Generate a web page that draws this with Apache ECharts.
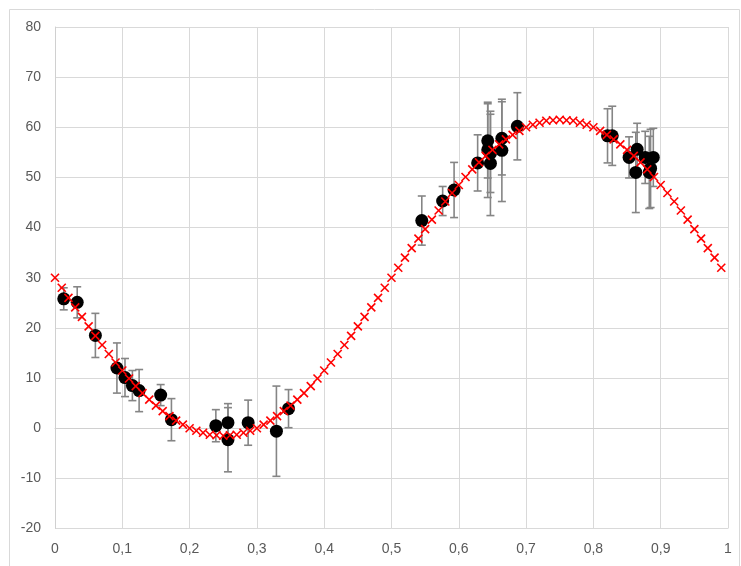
<!DOCTYPE html>
<html><head><meta charset="utf-8">
<script src="https://cdn.jsdelivr.net/npm/echarts@6/dist/echarts.min.js"></script>
<style>html,body{margin:0;padding:0;background:#fff}#c{width:741px;height:566px}</style>
</head><body><div id="c"></div>
<script>
// Model curve (red crosses), x = 0.00 .. 0.99 step 0.01
const modelX = [];
for (let i = 0; i < 100; i++) modelX.push(+(i / 100).toFixed(2));
const modelY = [30.0,28.0,26.0,24.1,22.2,20.3,18.4,16.6,14.8,13.1,11.5,9.9,8.4,7.0,5.7,4.5,3.4,2.4,1.5,0.7,0.0,-0.5,-0.9,-1.3,-1.4,-1.5,
-1.4,-1.3,-0.9,-0.5,0.0,0.7,1.5,2.4,3.4,4.5,5.7,7.0,8.4,9.9,11.5,13.1,14.8,16.6,18.4,20.3,22.2,24.1,26.0,28.0,30.0,
32.0,34.0,35.9,37.8,39.7,41.6,43.4,45.2,46.9,48.5,50.1,51.6,53.0,54.3,55.5,56.6,57.6,58.5,59.3,60.0,60.5,60.9,61.3,61.4,61.5,
61.4,61.3,60.9,60.5,60.0,59.3,58.5,57.6,56.6,55.5,54.3,53.0,51.6,50.1,48.5,46.9,45.2,43.4,41.6,39.7,37.8,35.9,34.0,32.0];

// Measured points (black circles) with symmetric error
const obsX = [0.013,0.033,0.060,0.092,0.104,0.115,0.125,0.157,0.173,0.239,0.257,0.257,0.287,0.329,0.347,
0.545,0.576,0.593,0.628,0.643,0.643,0.647,0.647,0.664,0.664,0.687,0.821,0.828,
0.853,0.865,0.863,0.877,0.885,0.883,0.889];
const obsY = [25.8,25.1,18.5,12.0,10.1,8.5,7.5,6.6,1.7,0.5,1.1,-2.3,1.1,-0.6,3.9,
41.4,45.3,47.5,52.9,57.3,55.5,54.8,52.8,57.8,55.4,60.2,58.3,58.3,
54.0,55.6,51.0,54.0,51.8,51.0,54.0];
const obsErr = [2.2,3.1,4.4,5.0,3.8,3.0,4.2,2.1,4.2,3.2,3.8,6.4,4.5,9.0,3.8,
4.9,2.9,5.5,5.6,7.4,9.5,7.8,10.4,7.3,10.2,6.7,5.4,5.9,
4.1,5.2,8.0,5.2,7.8,7.2,5.8];

const yTicks = [-20,-10,0,10,20,30,40,50,60,70,80];
const xTicks = [0,0.1,0.2,0.3,0.4,0.5,0.6,0.7,0.8,0.9,1];

const modelData = modelX.map((x, i) => [x, modelY[i]]);
const obsData = obsX.map((x, i) => [x, obsY[i]]);
const errData = obsX.map((x, i) => [x, obsY[i], obsErr[i]]);

const chart = echarts.init(document.getElementById('c'), null, {renderer: 'canvas'});
const labelFont = {color: '#595959', fontSize: 14, fontFamily: 'Liberation Sans, Arial, sans-serif'};
chart.setOption({
  animation: false,
  backgroundColor: '#fff',
  graphic: [{type: 'rect', shape: {x: 9.5, y: 9.5, width: 730, height: 570},
    style: {fill: 'none', stroke: '#d9d9d9', lineWidth: 1}, z: -10, silent: true}],
  grid: {left: 55, right: 13, top: 27, bottom: 37.5, containLabel: false},
  xAxis: {type: 'value', min: 0, max: 1, interval: 0.1,
    axisLine: {show: true, lineStyle: {color: '#d0d0d0', width: 1}},
    axisTick: {show: false},
    splitLine: {show: true, lineStyle: {color: '#d9d9d9', width: 1}},
    axisLabel: Object.assign({margin: 14, formatter: v => String(+v.toFixed(1)).replace('.', ',')}, labelFont)},
  yAxis: {type: 'value', min: -20, max: 80, interval: 10,
    axisLine: {show: true, lineStyle: {color: '#d0d0d0', width: 1}},
    axisTick: {show: false},
    splitLine: {show: true, lineStyle: {color: '#d9d9d9', width: 1}},
    axisLabel: Object.assign({margin: 14, formatter: v => String(v)}, labelFont)},
  series: [
    {type: 'custom', name: 'err', data: errData, z: 2,
      renderItem: function (params, api) {
        const x = api.value(0), y = api.value(1), e = api.value(2);
        const top = api.coord([x, y + e]);
        const bot = api.coord([x, y - e]);
        const hw = 4;
        const st = {stroke: '#858585', lineWidth: 1.6};
        return {type: 'group', children: [
          {type: 'line', shape: {x1: top[0], y1: top[1], x2: bot[0], y2: bot[1]}, style: st},
          {type: 'line', shape: {x1: top[0] - hw, y1: top[1], x2: top[0] + hw, y2: top[1]}, style: st},
          {type: 'line', shape: {x1: bot[0] - hw, y1: bot[1], x2: bot[0] + hw, y2: bot[1]}, style: st}
        ]};
      }},
    {type: 'scatter', name: 'obs', data: obsData, symbol: 'circle', symbolSize: 13, z: 3,
      itemStyle: {color: '#000', opacity: 1}},
    {type: 'custom', name: 'model', data: modelData, z: 4,
      renderItem: function (params, api) {
        const p = api.coord([api.value(0), api.value(1)]);
        const h = 4;
        const st = {stroke: '#ff0000', lineWidth: 1.6};
        return {type: 'group', children: [
          {type: 'line', shape: {x1: p[0] - h, y1: p[1] - h, x2: p[0] + h, y2: p[1] + h}, style: st},
          {type: 'line', shape: {x1: p[0] - h, y1: p[1] + h, x2: p[0] + h, y2: p[1] - h}, style: st}
        ]};
      }}
  ]
});
</script></body></html>
